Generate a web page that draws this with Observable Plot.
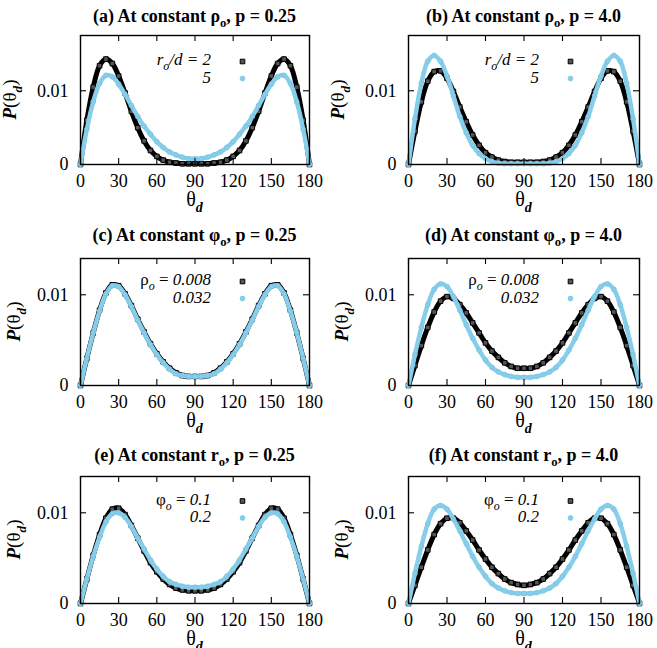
<!DOCTYPE html>
<html><head><meta charset="utf-8">
<script src="https://cdn.jsdelivr.net/npm/d3@7"></script>
<script src="https://cdn.jsdelivr.net/npm/@observablehq/plot@0.6"></script>
<style>
body{margin:0;background:#fff;}
#wrap{position:relative;width:657px;height:648px;overflow:hidden;}
#wrap svg{position:absolute;overflow:visible;}
#wrap svg, #wrap svg text, #wrap svg tspan{font-family:"Liberation Serif", serif !important;}
</style></head><body><div id="wrap"></div>
<script>
// ---- data ----
const thetaDeg = [0,5,10,15,20,25,30,35,40,45,50,55,60,65,70,75,80,85,90,95,100,105,110,115,120,125,130,135,140,145,150,155,160,165,170,175,180];
const xTicks = [0,30,60,90,120,150,180];
const yTicks = [0,0.01];
const rowYMax = [0.0175, 0.014, 0.014];

// (a) constant rho_o, p = 0.25
const A_r2 = [0,.0060,.0105,.0134,.0143,.0137,.0120,.0097,.0072,.0050,.0032,.0019,.0011,.0006,.0003,.0002,.0001,.0001,.0001,.0001,.0001,.0002,.0003,.0006,.0011,.0019,.0032,.0050,.0072,.0097,.0120,.0137,.0143,.0134,.0105,.0060,0];
const A_r5 = [0,.0048,.0085,.0110,.0121,.0119,.0109,.0095,.0080,.0065,.0052,.0041,.0031,.0023,.0017,.0013,.0010,.0008,.0008,.0008,.0010,.0013,.0017,.0023,.0031,.0041,.0052,.0065,.0080,.0095,.0109,.0119,.0121,.0110,.0085,.0048,0];
// (b) constant rho_o, p = 4.0
const B_r2 = [0,.0045,.0085,.0113,.0126,.0127,.0117,.0099,.0078,.0058,.0040,.0026,.0016,.0010,.0006,.0004,.0003,.0003,.0003,.0003,.0003,.0004,.0006,.0010,.0016,.0026,.0040,.0058,.0078,.0099,.0117,.0127,.0126,.0113,.0085,.0045,0];
const B_r5 = [0,.0062,.0110,.0140,.0148,.0140,.0120,.0093,.0065,.0043,.0026,.0015,.0008,.0004,.0002,.0001,.0001,.0001,.0001,.0001,.0001,.0001,.0002,.0004,.0008,.0015,.0026,.0043,.0065,.0093,.0120,.0140,.0148,.0140,.0110,.0062,0];
// (c) constant phi_o, p = 0.25
const C_rho008 = [0,.0030,.0058,.0083,.0102,.0111,.0110,.0101,.0088,.0073,.0059,.0046,.0035,.0026,.0019,.0014,.0011,.0010,.0010,.0010,.0011,.0014,.0019,.0026,.0035,.0046,.0059,.0073,.0088,.0101,.0110,.0111,.0102,.0083,.0058,.0030,0];
const C_rho032 = [0,.0030,.0058,.0082,.0101,.0110,.0109,.0100,.0087,.0072,.0058,.0045,.0034,.0025,.0018,.0013,.0011,.0010,.0010,.0010,.0011,.0013,.0018,.0025,.0034,.0045,.0058,.0072,.0087,.0100,.0109,.0110,.0101,.0082,.0058,.0030,0];
// (d) constant phi_o, p = 4.0
const D_rho008 = [0,.0022,.0044,.0064,.0081,.0093,.0098,.0096,.0089,.0080,.0069,.0058,.0047,.0038,.0031,.0025,.0021,.0019,.0019,.0019,.0021,.0025,.0031,.0038,.0047,.0058,.0069,.0080,.0089,.0096,.0098,.0093,.0081,.0064,.0044,.0022,0];
const D_rho032 = [0,.0034,.0064,.0089,.0106,.0112,.0109,.0098,.0083,.0067,.0052,.0039,.0028,.0020,.0015,.0012,.0010,.0009,.0009,.0009,.0010,.0012,.0015,.0020,.0028,.0039,.0052,.0067,.0083,.0098,.0109,.0112,.0106,.0089,.0064,.0034,0];
// (e) constant r_o, p = 0.25
const E_phi01 = [0,.0027,.0053,.0076,.0094,.0104,.0105,.0098,.0086,.0072,.0058,.0045,.0035,.0027,.0021,.0017,.0015,.0014,.0014,.0014,.0015,.0017,.0021,.0027,.0035,.0045,.0058,.0072,.0086,.0098,.0105,.0104,.0094,.0076,.0053,.0027,0];
const E_phi02 = [0,.0027,.0052,.0073,.0090,.0099,.0100,.0095,.0085,.0072,.0060,.0048,.0038,.0030,.0024,.0021,.0019,.0018,.0018,.0018,.0019,.0021,.0024,.0030,.0038,.0048,.0060,.0072,.0085,.0095,.0100,.0099,.0090,.0073,.0052,.0027,0];
// (f) constant r_o, p = 4.0
const F_phi01 = [0,.0020,.0040,.0059,.0076,.0088,.0094,.0094,.0089,.0080,.0070,.0059,.0049,.0040,.0033,.0027,.0023,.0021,.0020,.0021,.0023,.0027,.0033,.0040,.0049,.0059,.0070,.0080,.0089,.0094,.0094,.0088,.0076,.0059,.0040,.0020,0];
const F_phi02 = [0,.0033,.0063,.0088,.0104,.0108,.0104,.0093,.0080,.0066,.0052,.0040,.0030,.0022,.0017,.0014,.0012,.0011,.0011,.0011,.0012,.0014,.0017,.0022,.0030,.0040,.0052,.0066,.0080,.0093,.0104,.0108,.0104,.0088,.0063,.0033,0];

// text pieces: [text, flags]  flags: i = italic, b = bold, _ = subscript
const titles = [
  [["(a) At constant ρ"],["o","_"],[", p = 0.25"]],
  [["(b) At constant ρ"],["o","_"],[", p = 4.0"]],
  [["(c) At constant φ"],["o","_"],[", p = 0.25"]],
  [["(d) At constant φ"],["o","_"],[", p = 4.0"]],
  [["(e) At constant r"],["o","_"],[", p = 0.25"]],
  [["(f) At constant r"],["o","_"],[", p = 4.0"]]
];
const legendRows = [
  [[["r","i"],["o","i_"],["/d = 2","i"]], [["5","i"]]],
  [[["ρ"],["o","i_"],[" = "],["0.008","i"]], [["0.032","i"]]],
  [[["φ"],["o","i_"],[" = "],["0.1","i"]], [["0.2","i"]]]
];
const yLabel = [["P","bi"],["(θ"],["d","bi_"],[")"]];
const xLabel = [["θ"],["d","bi_"]];

const panels = [
  {row:0,col:0,black:A_r2,blue:A_r5},
  {row:0,col:1,black:B_r2,blue:B_r5},
  {row:1,col:0,black:C_rho008,blue:C_rho032},
  {row:1,col:1,black:D_rho008,blue:D_rho032},
  {row:2,col:0,black:E_phi01,blue:E_phi02},
  {row:2,col:1,black:F_phi01,blue:F_phi02}
];

// ---- layout ----
const rowLayout = [
  {top:0,   height:215, mt:35, mb:51, titleY:21.5, ylabX:16, legY:[30,48],   symY:[26,43]},
  {top:215, height:215, mt:43, mb:45, titleY:26,   ylabX:20, legY:[26.5,44.5], symY:[23,40]},
  {top:430, height:218, mt:46, mb:45, titleY:31,   ylabX:20, legY:[28.5,45.5], symY:[24.5,41.5]}
];
const colLayout = [{left:0,width:328,ml:80,mr:19},{left:328,width:329,ml:80,mr:18}];
const BLUE = "#87ceeb";
const FONT = "Liberation Serif, serif";

function rich(textSel, parts, size) {
  let shifted = 0;
  for (const [t, flags = ""] of parts) {
    const ts = textSel.append("tspan").text(t);
    const sub = flags.includes("_");
    const shift = sub ? size * 0.3 : 0;
    if (shift - shifted !== 0) ts.attr("dy", shift - shifted);
    shifted = shift;
    if (sub) ts.attr("font-size", size * 0.7);
    if (flags.includes("i")) ts.attr("font-style", "italic");
    if (flags.includes("b")) ts.attr("font-weight", "bold");
  }
}

const wrap = document.getElementById("wrap");
panels.forEach((p, k) => {
  const R = rowLayout[p.row], C = colLayout[p.col];
  const fw = C.width - C.ml - C.mr, fh = R.height - R.mt - R.mb;
  const data = thetaDeg.map((t, i) => ({t, b: p.black[i], c: p.blue[i]}));
  const svg = Plot.plot({
    width: C.width, height: R.height,
    marginLeft: C.ml, marginRight: C.mr, marginTop: R.mt, marginBottom: R.mb,
    style: {fontFamily: FONT, fontSize: "18px", background: "transparent", color: "black", overflow: "visible"},
    x: {domain: [0, 180]},
    y: {domain: [0, rowYMax[p.row]]},
    marks: [
      Plot.line(data, {x: "t", y: "b", stroke: "black", strokeWidth: 5, curve: "catmull-rom"}),
      Plot.dot(data, {x: "t", y: "b", symbol: "square", r: 2.6, fill: "#555", stroke: "black", strokeWidth: 1}),
      Plot.line(data, {x: "t", y: "c", stroke: BLUE, strokeWidth: 4.5, curve: "catmull-rom"}),
      Plot.dot(data, {x: "t", y: "c", symbol: "circle", r: 2.4, fill: BLUE, stroke: "#7cc3e3", strokeWidth: 0.8}),
      Plot.tickX(xTicks, {x: d => d, insetTop: fh - 6, stroke: "black", strokeWidth: 1.1}),
      Plot.tickX(xTicks, {x: d => d, insetBottom: fh - 6, stroke: "black", strokeWidth: 1.1}),
      Plot.tickY(yTicks, {y: d => d, insetRight: fw - 6, stroke: "black", strokeWidth: 1.1}),
      Plot.tickY(yTicks, {y: d => d, insetLeft: fw - 6, stroke: "black", strokeWidth: 1.1}),
      Plot.axisX({ticks: xTicks, tickSize: 0, tickPadding: 10, label: null, tickFormat: d => String(d), fontSize: 18}),
      Plot.axisY({ticks: yTicks, tickSize: 0, tickPadding: 12, label: null, tickFormat: d => String(d), fontSize: 18}),
      Plot.frame({stroke: "black", strokeWidth: 1.4}),
      Plot.dot([0], {frameAnchor: "top-left", dx: 162, dy: R.symY[0], symbol: "square", r: 2.6, fill: "#555", stroke: "black", strokeWidth: 1}),
      Plot.dot([0], {frameAnchor: "top-left", dx: 162, dy: R.symY[1], symbol: "circle", r: 2.4, fill: BLUE, stroke: "#7cc3e3", strokeWidth: 0.8})
    ]
  });
  svg.style.left = C.left + "px";
  svg.style.top = R.top + "px";
  wrap.appendChild(svg);
  const s = d3.select(svg);
  const cx = C.ml + fw / 2;
  // title
  const ti = s.append("text").attr("x", cx).attr("y", R.titleY)
    .attr("text-anchor", "middle").attr("font-family", FONT).attr("font-size", 18).attr("font-weight", "bold").attr("fill", "black");
  rich(ti, titles[k], 18);
  // x label
  const xl = s.append("text").attr("x", cx).attr("y", R.height - R.mb + 42)
    .attr("text-anchor", "middle").attr("font-family", FONT).attr("font-size", 20).attr("fill", "black");
  rich(xl, xLabel, 20);
  // y label
  const yl = s.append("text").attr("transform", `translate(${R.ylabX},${R.mt + fh / 2}) rotate(-90)`)
    .attr("text-anchor", "middle").attr("font-family", FONT).attr("font-size", 19).attr("fill", "black");
  rich(yl, yLabel, 19);
  // legend labels
  legendRows[p.row].forEach((parts, j) => {
    const lt = s.append("text").attr("x", C.ml + 131).attr("y", R.mt + R.legY[j])
      .attr("text-anchor", "end").attr("font-family", FONT).attr("font-size", 17).attr("fill", "black");
    rich(lt, parts, 17);
  });
});
</script></body></html>
